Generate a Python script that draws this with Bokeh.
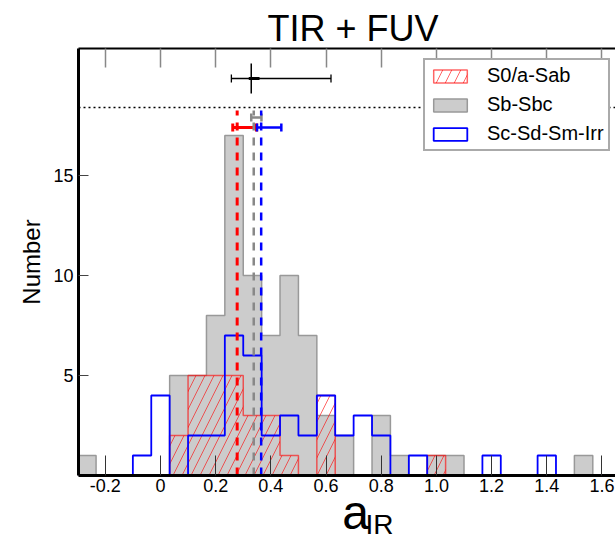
from bokeh.plotting import figure
from bokeh.layouts import column
from bokeh.models import (Range1d, LinearAxis, FixedTicker, Legend, LegendItem,
                          Span, Whisker, ColumnDataSource, TeeHead)
from bokeh.core.properties import value
from bokeh.embed import file_html
from bokeh.resources import INLINE

# ---------------- data ----------------
BIN_EDGES = [-0.3, -0.2333, -0.1667, -0.1, -0.0333, 0.0333, 0.1, 0.1667, 0.2333,
             0.3, 0.3667, 0.4333, 0.5, 0.5667, 0.6333, 0.7, 0.7667, 0.8333, 0.9,
             0.9667, 1.0333, 1.1, 1.1667, 1.2333, 1.3, 1.3667, 1.4333, 1.5,
             1.5667, 1.6333]
COUNTS_S0_SAB = [0, 0, 0, 0, 0, 2, 5, 5, 5, 3, 3, 1, 0, 4, 0, 0, 0, 0, 0, 1,
                 0, 0, 0, 0, 0, 0, 0, 0, 0]
COUNTS_SB_SBC = [1, 0, 0, 0, 0, 5, 5, 8, 17, 10, 7, 10, 7, 3, 2, 0, 3, 1, 0, 1,
                 1, 0, 0, 0, 0, 0, 0, 1, 0]
COUNTS_SC_IRR = [0, 0, 0, 1, 4, 0, 2, 2, 7, 6, 2, 3, 2, 4, 2, 3, 2, 0, 1, 0,
                 0, 0, 1, 0, 0, 1, 0, 0, 0]
SERIES_NAMES = ["S0/a-Sab", "Sb-Sbc", "Sc-Sd-Sm-Irr"]

# mean a_IR per type, with its error range, and the height of the error bars
MEAN_X = [0.278, 0.338, 0.365]
MEAN_LO = [0.262, 0.329, 0.350]
MEAN_HI = [0.348, 0.366, 0.438]
MEAN_ERR_Y = [17.4, 17.9, 17.4]
MEAN_LINE_TOP = 18.25

# whole-sample point
ALL_X = 0.329
ALL_X_LO = 0.257
ALL_X_HI = 0.618
ALL_X_LO_IN = 0.320
ALL_X_HI_IN = 0.359
ALL_Y = 19.85
ALL_Y_LO = 19.1
ALL_Y_HI = 20.6
DOTTED_Y = 18.4

X_TICKS = [-0.2, 0.0, 0.2, 0.4, 0.6, 0.8, 1.0, 1.2, 1.4, 1.6]
X_TICK_LABELS = ["-0.2", "0", "0.2", "0.4", "0.6", "0.8", "1.0", "1.2", "1.4", "1.6"]
Y_TICKS = [5, 10, 15]

TITLE = "TIR + FUV"
Y_LABEL = "Number"
X_LABEL_MAIN = "a"
X_LABEL_SUB = "IR"

FONT = "Liberation Sans"


def step_outline(edges, counts):
    xs, ys = [edges[0]], [0]
    for i, c in enumerate(counts):
        xs += [edges[i], edges[i + 1]]
        ys += [c, c]
    xs.append(edges[-1])
    ys.append(0)
    return xs, ys


p = figure(width=615, height=502, output_backend="svg", toolbar_location=None,
           x_range=Range1d(-0.297, 1.649), y_range=Range1d(0, 21.35),
           min_border_left=78, min_border_right=0, min_border_top=48,
           min_border_bottom=27, x_axis_location=None, y_axis_location=None)
p.outline_line_color = None
p.grid.visible = False
p.background_fill_color = "white"
p.border_fill_color = "white"

p.title.text = TITLE
p.title.align = "left"
p.title.offset = 189
p.title.text_font = FONT
p.title.text_font_size = "36px"
p.title.text_font_style = "normal"
p.title.text_color = "black"
p.title.standoff = 0

# axes
xb = LinearAxis(ticker=FixedTicker(ticks=X_TICKS))
xb.major_label_overrides = {t: l for t, l in zip(X_TICKS, X_TICK_LABELS)}
xb.axis_line_width = 3
xb.axis_line_color = "black"
xb.major_tick_in = 20
xb.major_tick_out = 0
xb.major_tick_line_color = "#333333"
xb.major_tick_line_width = 1
xb.minor_tick_line_color = None
xb.major_label_text_font = FONT
xb.major_label_text_font_size = "18px"
xb.major_label_text_color = "black"
xb.major_label_standoff = 3
p.add_layout(xb, "below")

xt = LinearAxis(ticker=FixedTicker(ticks=X_TICKS))
xt.major_label_overrides = {t: "" for t in X_TICKS}
xt.axis_line_width = 2
xt.axis_line_color = "black"
xt.major_tick_in = 19
xt.major_tick_out = 0
xt.major_tick_line_color = "#888888"
xt.major_tick_line_width = 1.5
xt.minor_tick_line_color = None
xt.major_label_standoff = 0
p.add_layout(xt, "above")

yl = LinearAxis(ticker=FixedTicker(ticks=Y_TICKS), axis_label=Y_LABEL)
yl.axis_line_width = 3
yl.axis_line_color = "black"
yl.major_tick_in = 10
yl.major_tick_out = 0
yl.major_tick_line_color = "#444444"
yl.major_tick_line_width = 1
yl.minor_tick_line_color = None
yl.major_label_text_font = FONT
yl.major_label_text_font_size = "18px"
yl.major_label_text_color = "black"
yl.major_label_standoff = 5
yl.axis_label_text_font = FONT
yl.axis_label_text_font_size = "24px"
yl.axis_label_text_font_style = "normal"
yl.axis_label_text_color = "black"
yl.axis_label_standoff = 5
p.add_layout(yl, "left")

# histograms
gx, gy = step_outline(BIN_EDGES, COUNTS_SB_SBC)
r_gray = p.patch(gx, gy, fill_color="#cccccc", line_color="#999999", line_width=1.5)
rx, ry = step_outline(BIN_EDGES, COUNTS_S0_SAB)
r_red = p.patch(rx, ry, fill_alpha=0, line_color="red", line_alpha=0.6, line_width=1.5,
                hatch_pattern="/", hatch_color="red", hatch_alpha=0.6,
                hatch_scale=18, hatch_weight=1)
bx, by = step_outline(BIN_EDGES, COUNTS_SC_IRR)
r_blue = p.patch(bx, by, fill_alpha=0, line_color="blue", line_width=1.8)

# dotted reference line
p.add_layout(Span(location=DOTTED_Y, dimension="width", line_color="black",
                  line_width=1.3, line_dash="2 3"))

# mean lines and their errors
MEAN_COLORS = ["red", "#888888", "blue"]
MEAN_WIDTHS = [3, 2.5, 2.5]
for xm, lo, hi, ye, col, w in zip(MEAN_X, MEAN_LO, MEAN_HI, MEAN_ERR_Y,
                                  MEAN_COLORS, MEAN_WIDTHS):
    p.segment(x0=[xm], y0=[0], x1=[xm], y1=[MEAN_LINE_TOP], line_color=col,
              line_width=w, line_dash="8 7")
    src = ColumnDataSource(dict(base=[ye], lower=[lo], upper=[hi]))
    p.add_layout(Whisker(source=src, base="base", lower="lower", upper="upper",
                         dimension="width", line_color=col, line_width=w,
                         lower_head=TeeHead(size=8, line_color=col, line_width=w),
                         upper_head=TeeHead(size=8, line_color=col, line_width=w)))

# whole-sample point
src_all = ColumnDataSource(dict(base=[ALL_Y], lower=[ALL_X_LO], upper=[ALL_X_HI]))
p.add_layout(Whisker(source=src_all, base="base", lower="lower", upper="upper",
                     dimension="width", line_color="black", line_width=1.3,
                     lower_head=TeeHead(size=8, line_color="black", line_width=1.3),
                     upper_head=TeeHead(size=8, line_color="black", line_width=1.3)))
p.segment(x0=[ALL_X_LO_IN], y0=[ALL_Y], x1=[ALL_X_HI_IN], y1=[ALL_Y],
          line_color="black", line_width=3)
p.segment(x0=[ALL_X], y0=[ALL_Y_LO], x1=[ALL_X], y1=[ALL_Y_HI],
          line_color="black", line_width=1.5)

# legend
legend = Legend(items=[LegendItem(label=SERIES_NAMES[0], renderers=[r_red]),
                       LegendItem(label=SERIES_NAMES[1], renderers=[r_gray]),
                       LegendItem(label=SERIES_NAMES[2], renderers=[r_blue])],
                location=(345, 324))
legend.label_text_font = FONT
legend.label_text_font_size = "20px"
legend.label_text_color = "black"
legend.glyph_width = 42
legend.glyph_height = 16
legend.label_standoff = 16
legend.spacing = 6
legend.padding = 4
legend.border_line_color = "#555555"
legend.border_line_width = 2
legend.background_fill_alpha = 1
p.add_layout(legend)

# x-axis label "a" with subscript "IR": a transparent strip laid over the
# bottom of the plot
q = figure(width=615, height=60, output_backend="svg", toolbar_location=None,
           title=None, x_range=p.x_range, y_range=Range1d(0, 60),
           min_border_left=78, min_border_right=0, min_border_top=0,
           min_border_bottom=0, x_axis_location=None, y_axis_location=None)
q.margin = (-22, 0, 0, 0)
q.outline_line_color = None
q.grid.visible = False
q.background_fill_alpha = 0
q.border_fill_alpha = 0
q.text(x=[0.659], y=[28.5], text=[X_LABEL_MAIN], text_font=value(FONT),
       text_font_size="48px", text_baseline="middle", text_align="left",
       text_color="black")
q.text(x=[0.743], y=[16.5], text=[X_LABEL_SUB], text_font=value(FONT),
       text_font_size="28px", text_baseline="middle", text_align="left",
       text_color="black")

layout = column(p, q, spacing=0)
open("out.html", "w").write(file_html(layout, INLINE))
